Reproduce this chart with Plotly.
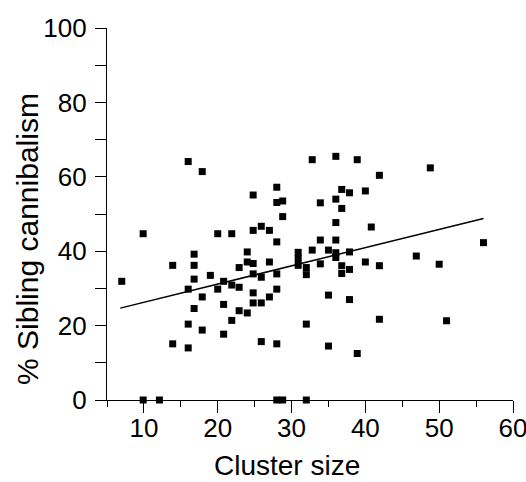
import plotly.graph_objects as go

# Cluster size (x) and % sibling cannibalism (y)
cluster_size = [
    7.0, 9.9, 9.9, 12.1, 13.9, 13.9,
    16.0, 16.0, 16.0, 16.0,
    16.8, 16.8, 16.8, 16.8,
    17.9, 17.9, 17.9,
    19.0, 20.0, 20.0,
    20.8, 20.8, 20.8,
    21.9, 21.9, 21.9,
    22.9, 22.9, 22.9,
    24.0, 24.0, 24.0,
    24.8, 24.8, 24.8, 24.8, 24.8, 24.8,
    25.9, 25.9, 25.9, 25.9,
    27.0, 27.0, 27.0,
    28.0, 28.0, 28.0, 28.0, 28.0, 28.0, 28.0,
    28.8, 28.8, 28.8,
    30.9, 30.9, 30.9,
    32.0, 32.0, 32.0, 32.0,
    32.8, 32.8,
    33.9, 33.9, 33.9,
    35.0, 35.0, 35.0,
    36.0, 36.0, 36.0, 36.0, 36.0, 36.0,
    36.8, 36.8, 36.8, 36.8,
    37.85, 37.85, 37.85, 37.85,
    38.9, 38.9,
    40.0, 40.0, 40.8,
    41.9, 41.9, 41.9,
    46.9, 48.8, 50.0, 51.0, 56.0,
]
cannibalism_pct = [
    31.9, 44.7, 0.0, 0.0, 36.2, 15.1,
    64.1, 29.8, 20.4, 14.0,
    39.2, 36.2, 32.5, 24.6,
    61.4, 27.7, 18.8,
    33.5, 44.7, 29.8,
    31.9, 25.7, 17.7,
    44.7, 30.9, 21.4,
    35.6, 30.3, 24.0,
    39.8, 37.1, 23.4,
    55.1, 45.6, 36.7, 33.9, 28.8, 26.1,
    46.7, 33.0, 26.1, 15.7,
    45.6, 37.1, 27.7,
    57.2, 53.1, 42.5, 33.9, 29.8, 15.1, 0.0,
    53.5, 49.3, 0.0,
    39.7, 38.0, 36.2,
    35.6, 33.7, 20.4, 0.0,
    64.6, 40.3,
    53.0, 43.0, 36.6,
    40.3, 28.2, 14.5,
    65.5, 54.0, 47.7, 43.0, 39.6, 38.3,
    56.6, 51.5, 36.1, 34.0,
    55.7, 39.8, 35.1, 27.0,
    64.6, 12.5,
    56.2, 37.1, 46.5,
    60.4, 36.1, 21.7,
    38.7, 62.4, 36.5, 21.3, 42.3,
]

# Regression line end points
fit_x = [6.8, 56.0]
fit_y = [24.7, 48.8]

x_tick_vals = [10, 20, 30, 40, 50, 60]
x_tick_text = ["10", "20", "30", "40", "50", "60"]
y_tick_vals = [0, 20, 40, 60, 80, 100]
y_tick_text = ["0", "20", "40", "60", "80", "100"]

FONT = "Liberation Sans, Arial, Helvetica, sans-serif"

fig = go.Figure()
fig.add_trace(go.Scatter(
    x=fit_x, y=fit_y, mode="lines",
    line=dict(color="black", width=1.5),
    hoverinfo="skip", showlegend=False,
))
fig.add_trace(go.Scatter(
    x=cluster_size, y=cannibalism_pct, mode="markers",
    marker=dict(symbol="square", size=7, color="black", line=dict(width=0)),
    cliponaxis=False, showlegend=False,
))

fig.update_layout(
    width=526, height=482,
    margin=dict(l=107, r=13, t=28, b=82, autoexpand=False),
    paper_bgcolor="white", plot_bgcolor="white",
    font=dict(family=FONT, color="black"),
    showlegend=False,
)

fig.update_xaxes(
    range=[5, 60], showgrid=False, zeroline=False, automargin=False,
    showline=True, linecolor="black", linewidth=1.2,
    ticks="outside", ticklen=12, tickwidth=1.2, tickcolor="black",
    tickvals=x_tick_vals, ticktext=x_tick_text,
    tickfont=dict(size=26, family=FONT, color="black"),
    ticklabeloverflow="allow", ticklabelstandoff=-7,
    minor=dict(dtick=5, tick0=0, ticks="outside", ticklen=6, tickwidth=1.2, tickcolor="black", showgrid=False),
)
fig.update_yaxes(
    range=[0, 100], showgrid=False, zeroline=False, automargin=False,
    showline=True, linecolor="black", linewidth=1.2,
    ticks="outside", ticklen=11, tickwidth=1.2, tickcolor="black",
    tickvals=y_tick_vals, ticktext=y_tick_text,
    tickfont=dict(size=26, family=FONT, color="black"),
    ticklabeloverflow="allow", ticklabelstandoff=3,
    minor=dict(dtick=10, tick0=0, ticks="outside", ticklen=11, tickwidth=1.2, tickcolor="black", showgrid=False),
)

fig.add_annotation(
    text="Cluster size", xref="paper", yref="paper",
    x=0.443, y=-0.1774, xanchor="center", yanchor="middle",
    showarrow=False, font=dict(size=28, family=FONT, color="black"),
)
fig.add_annotation(
    text="% Sibling cannibalism", xref="paper", yref="paper",
    x=-0.1946, y=0.433, xanchor="center", yanchor="middle", textangle=-90,
    showarrow=False, font=dict(size=30, family=FONT, color="black"),
)

fig.write_html("out.html")
